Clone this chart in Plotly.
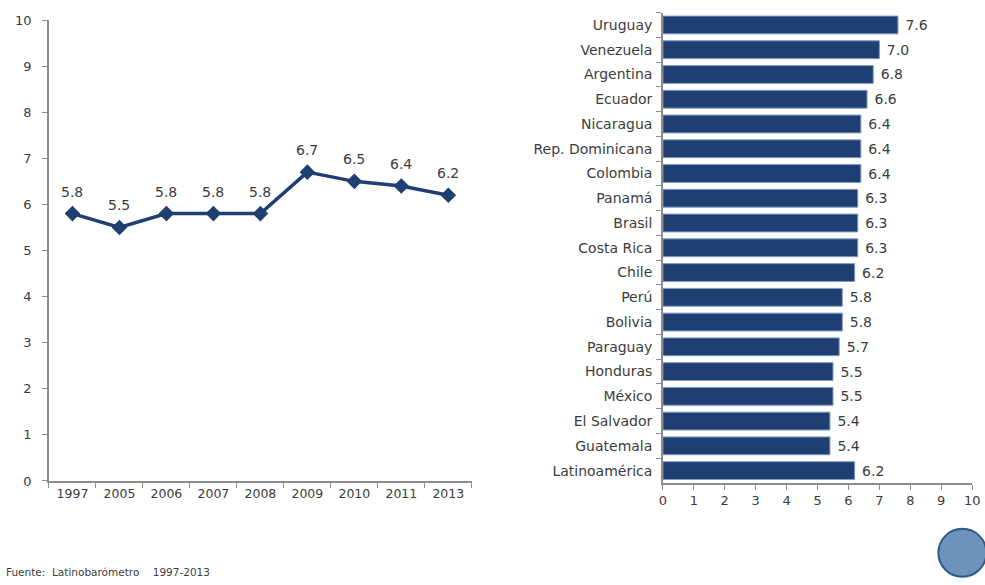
import plotly.graph_objects as go

years = ["1997", "2005", "2006", "2007", "2008", "2009", "2010", "2011", "2013"]
line_values = [5.8, 5.5, 5.8, 5.8, 5.8, 6.7, 6.5, 6.4, 6.2]

countries = ["Uruguay", "Venezuela", "Argentina", "Ecuador", "Nicaragua", "Rep. Dominicana",
             "Colombia", "Panamá", "Brasil", "Costa Rica", "Chile", "Perú", "Bolivia",
             "Paraguay", "Honduras", "México", "El Salvador", "Guatemala", "Latinoamérica"]
bar_values = [7.6, 7.0, 6.8, 6.6, 6.4, 6.4, 6.4, 6.3, 6.3, 6.3, 6.2, 5.8, 5.8, 5.7, 5.5, 5.5, 5.4, 5.4, 6.2]

NAVY = "#1f3f72"
TXT = "#3c3c3c"
AX = "#8c8c8c"
FONT = "DejaVu Sans, Liberation Sans, Arial, sans-serif"

fig = go.Figure()

fig.add_trace(go.Scatter(
    x=years, y=line_values, mode="lines+markers",
    line=dict(color=NAVY, width=3.5),
    marker=dict(symbol="diamond", size=12, color=NAVY),
    xaxis="x", yaxis="y", cliponaxis=False, showlegend=False,
))

for i, v in enumerate(line_values):
    fig.add_annotation(x=i, y=v, xref="x", yref="y", text=f"{v:.1f}",
                       showarrow=False, yshift=22,
                       font=dict(size=14, color=TXT, family=FONT))

fig.add_trace(go.Bar(
    x=bar_values, y=countries, orientation="h",
    marker=dict(color=NAVY, line=dict(color="#7f9cc4", width=1)),
    text=[f" {v:.1f}" for v in bar_values], textposition="outside",
    textfont=dict(size=14, color=TXT, family=FONT),
    cliponaxis=False, xaxis="x2", yaxis="y2", showlegend=False,
))

fig.update_layout(
    width=985, height=585,
    margin=dict(l=0, r=0, t=0, b=0),
    paper_bgcolor="white", plot_bgcolor="white",
    font=dict(family=FONT, color=TXT),
    bargap=0.28,
    xaxis=dict(domain=[0.0497, 0.479], anchor="y", type="category",
               range=[-0.5, 8.5], showline=True, linecolor=AX, linewidth=1.5,
               ticks="outside", tickson="boundaries", ticklen=5, tickcolor=AX,
               showgrid=False, zeroline=False, automargin=False,
               tickfont=dict(size=12.5, color=TXT)),
    yaxis=dict(domain=[0.1778, 0.9658], anchor="x", range=[0, 10], dtick=1,
               showline=True, linecolor=AX, linewidth=1.5,
               ticks="outside", ticklen=5, tickcolor=AX,
               showgrid=False, zeroline=False, ticklabelstandoff=8, automargin=False,
               tickfont=dict(size=13, color=TXT)),
    xaxis2=dict(domain=[0.673, 0.987], anchor="y2", range=[0, 10], dtick=1,
                showline=True, linecolor=AX, linewidth=1.5,
                ticks="outside", ticklen=5, tickcolor=AX,
                showgrid=False, zeroline=False, automargin=False,
                tickfont=dict(size=13, color=TXT)),
    yaxis2=dict(domain=[0.1744, 0.9785], anchor="x2", autorange="reversed",
                showline=True, linecolor=AX, linewidth=1.5,
                ticks="outside", tickson="boundaries", ticklen=5, tickcolor=AX,
                showgrid=False, zeroline=False, ticklabelstandoff=6, automargin=False,
                tickfont=dict(size=14, color=TXT)),
)

fig.add_annotation(
    text="Fuente:  Latinobarómetro    1997-2013",
    xref="paper", yref="paper", x=0.004, y=0.022, xanchor="left", yanchor="middle",
    showarrow=False, font=dict(size=10.5, color=TXT, family=FONT),
)

# decorative logo approximation
fig.add_shape(type="circle", xref="paper", yref="paper",
              xsizemode="pixel", ysizemode="pixel", xanchor=0.977, yanchor=0.055,
              x0=-24, x1=24, y0=-24, y1=24,
              fillcolor="#6d93bd", line=dict(color="#2d5a88", width=2), layer="above")

fig.write_html("out.html")
